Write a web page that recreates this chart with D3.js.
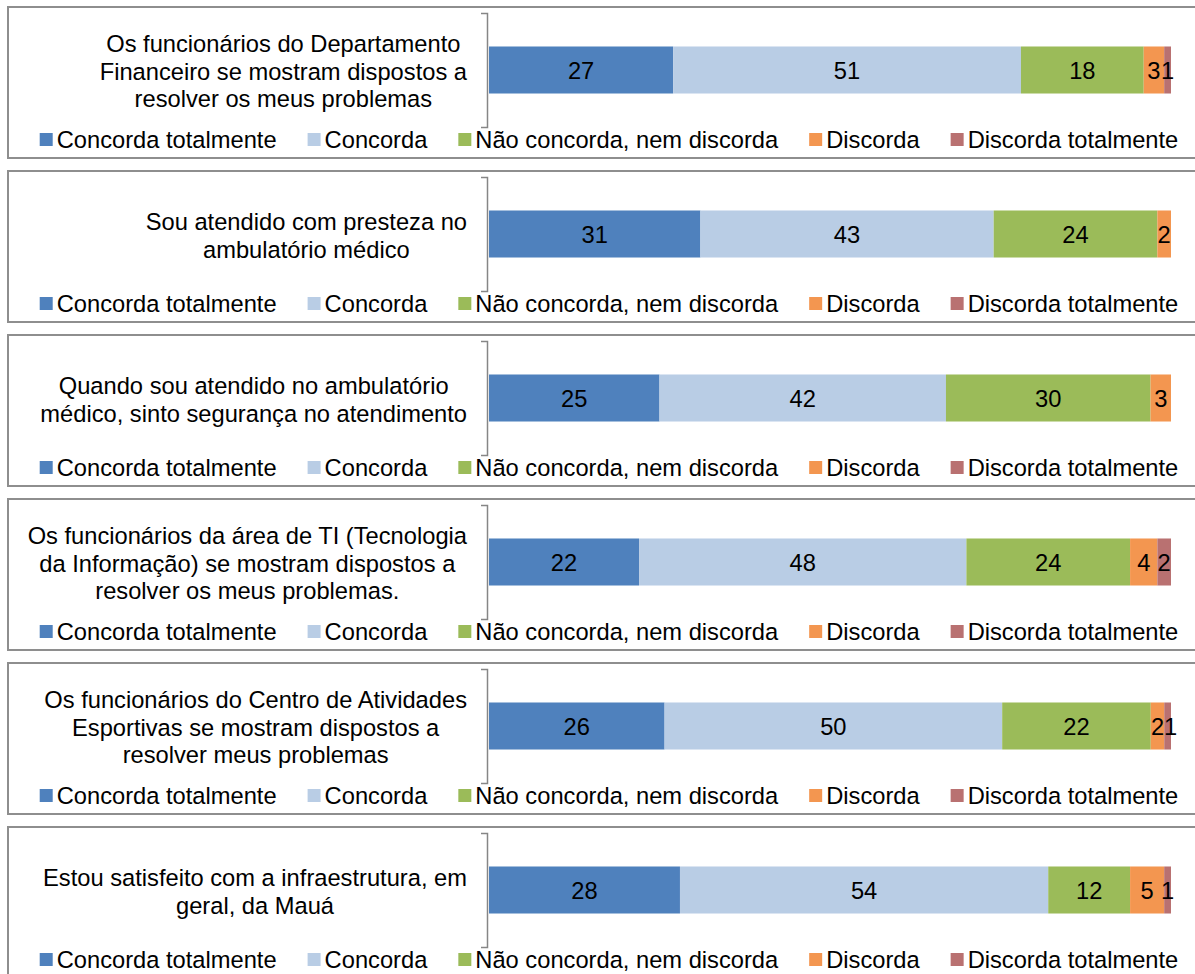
<!DOCTYPE html>
<html>
<head>
<meta charset="utf-8">
<script src="https://cdn.jsdelivr.net/npm/d3@7"></script>
<style>
  html, body { margin: 0; padding: 0; background: #fff; }
  svg text { font-family: "Liberation Sans", Arial, sans-serif; fill: #000; }
</style>
</head>
<body>
<svg id="chart" width="1195" height="974"></svg>
<script>
// Survey statements (line breaks as shown in each panel)
const questions = [
  ["Os funcionários do Departamento", "Financeiro se mostram dispostos a", "resolver os meus problemas"],
  ["Sou atendido com presteza no", "ambulatório médico"],
  ["Quando sou atendido no ambulatório", "médico, sinto segurança no atendimento"],
  ["Os funcionários da área de TI (Tecnologia", "da Informação) se mostram dispostos a", "resolver os meus problemas."],
  ["Os funcionários do Centro de Atividades", "Esportivas se mostram dispostos a", "resolver meus problemas"],
  ["Estou satisfeito com a infraestrutura, em", "geral, da Mauá"]
];

// Answer categories
const series = ["Concorda totalmente", "Concorda", "Não concorda, nem discorda", "Discorda", "Discorda totalmente"];

// Percentages per statement, one array per answer category
const concordaTotalmente = [27, 31, 25, 22, 26, 28];
const concorda           = [51, 43, 42, 48, 50, 54];
const naoConcorda        = [18, 24, 30, 24, 22, 12];
const discorda           = [3, 2, 3, 4, 2, 5];
const discordaTotalmente = [1, 0, 0, 2, 1, 1];

const seriesColors = ["#4F81BD", "#B9CDE5", "#9BBB59", "#F39650", "#B97171"];

const values = [concordaTotalmente, concorda, naoConcorda, discorda, discordaTotalmente];

const svg = d3.select("#chart");
const FONT = 23.7;

const panelTop0 = 7, panelPitch = 164, panelH = 151;
const boxLeft = 8;

const x = d3.scaleLinear().domain([0, 1]).range([489, 1171]);
const color = d3.scaleOrdinal().domain(series).range(seriesColors);

// measuring helper
const measure = svg.append("text").attr("font-size", FONT).attr("visibility", "hidden");
function textW(s) { measure.text(s); return measure.node().getComputedTextLength(); }

questions.forEach((lines, qi) => {
  const g = svg.append("g").attr("transform", `translate(0,${panelTop0 + qi * panelPitch})`);

  // panel frame
  g.append("rect")
    .attr("x", boxLeft).attr("y", 0)
    .attr("width", 1230).attr("height", panelH)
    .attr("fill", "#fff").attr("stroke", "#8E8E8E").attr("stroke-width", 2);

  const y = d3.scaleBand().domain([qi]).range([6, 120]).paddingInner(0.416).paddingOuter(0.416);

  // stacked 100% bar
  const row = series.map((s, si) => ({ key: s, v: values[si][qi] }));
  const total = d3.sum(row, d => d.v);
  let acc = 0;
  row.forEach(d => { d.x0 = acc / total; acc += d.v; d.x1 = acc / total; });
  const segs = row.filter(d => d.v > 0);

  g.selectAll("rect.seg").data(segs).join("rect")
    .attr("class", "seg")
    .attr("x", d => x(d.x0))
    .attr("y", y(qi))
    .attr("width", d => x(d.x1) - x(d.x0))
    .attr("height", y.bandwidth())
    .attr("fill", d => color(d.key));

  // value labels centred in each segment; narrow neighbours are nudged apart
  let prevRight = -Infinity;
  segs.forEach(d => {
    const w = textW(String(d.v));
    let cxv = (x(d.x0) + x(d.x1)) / 2;
    if (cxv - w / 2 < prevRight) cxv = prevRight + w / 2;
    d.lx = cxv;
    prevRight = cxv + w / 2;
  });

  g.selectAll("text.val").data(segs).join("text")
    .attr("class", "val")
    .attr("x", d => d.lx)
    .attr("y", y(qi) + y.bandwidth() / 2 + 1)
    .attr("dy", "0.35em")
    .attr("text-anchor", "middle")
    .attr("font-size", FONT)
    .text(d => d.v);

  // category axis (bracket)
  const axisG = g.append("g").attr("transform", `translate(487,0)`)
    .call(d3.axisLeft(y).tickValues([]).tickSizeOuter(6));
  axisG.select(".domain").attr("stroke", "#868686").attr("stroke-width", 1.5);

  // statement text, centered block right-aligned at the axis
  const maxW = d3.max(lines, l => textW(l));
  const cx = 467 - maxW / 2;
  const lh = 27.5;
  const cy = y(qi) + y.bandwidth() / 2 + 1.5;
  g.append("text")
    .attr("text-anchor", "middle")
    .attr("font-size", FONT)
    .selectAll("tspan").data(lines).join("tspan")
    .attr("x", cx)
    .attr("y", (d, i) => cy + (i - (lines.length - 1) / 2) * lh)
    .attr("dy", "0.35em")
    .text(d => d);

  // legend
  const mk = 13, gapT = 4, gapItem = 31;
  const widths = series.map(s => textW(s));
  const totalW = d3.sum(widths) + series.length * (mk + gapT) + (series.length - 1) * gapItem;
  let lx = 609 - totalW / 2;
  const leg = g.append("g");
  series.forEach((s, si) => {
    leg.append("rect").attr("x", lx).attr("y", 126).attr("width", mk).attr("height", mk)
      .attr("fill", color(s));
    leg.append("text").attr("x", lx + mk + gapT).attr("y", 140.5)
      .attr("font-size", FONT).text(s);
    lx += mk + gapT + widths[si] + gapItem;
  });
});

measure.remove();
</script>
</body>
</html>
